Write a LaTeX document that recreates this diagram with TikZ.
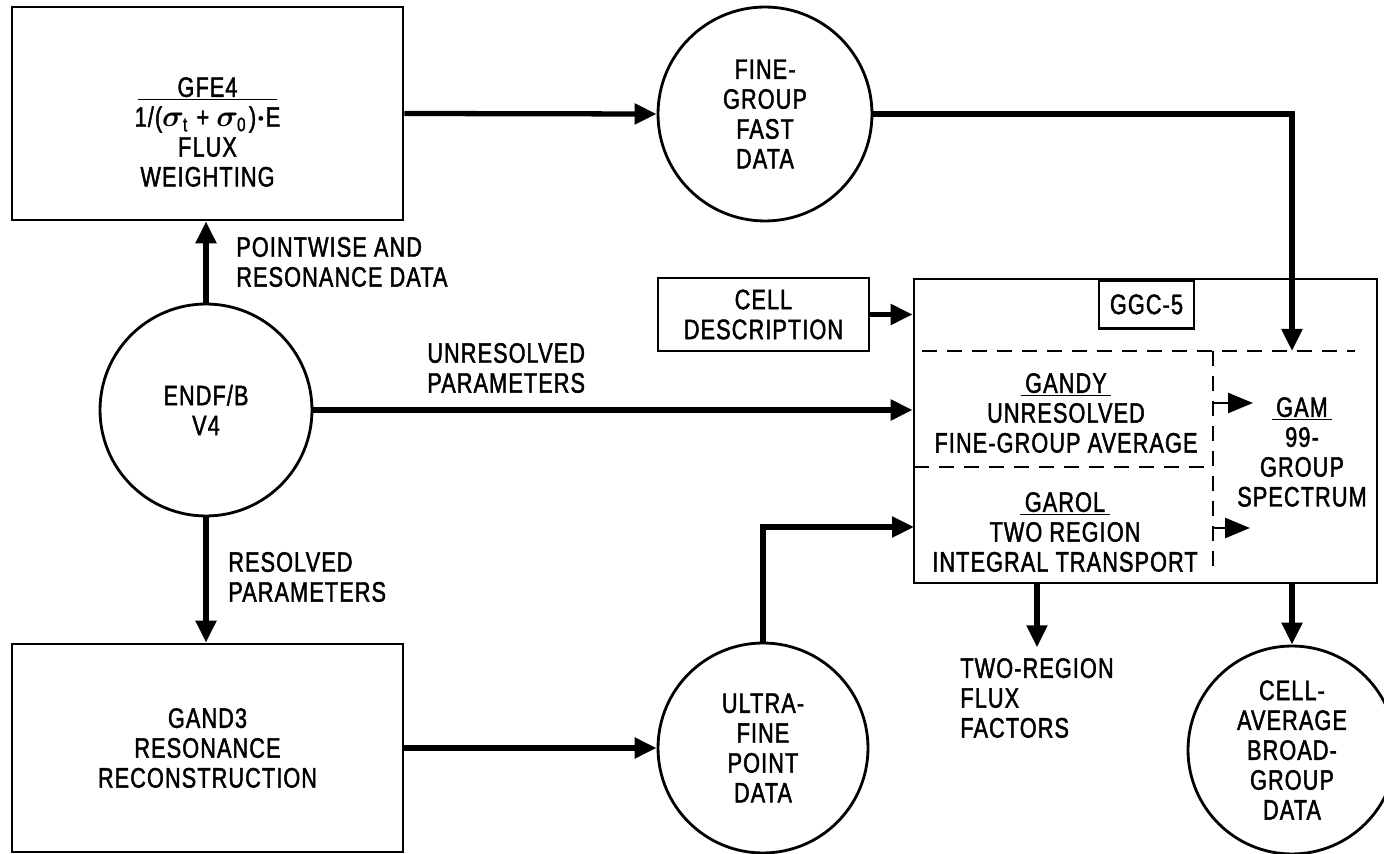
\documentclass[tikz,border=0pt]{standalone}
\usepackage{bm}
\usepackage{fontspec}
\setmainfont{Liberation Sans}[FakeStretch=0.77,LetterSpace=4,FakeBold=1.6]
\usepackage{tikz}
\usetikzlibrary{arrows.meta}

\tikzset{
  block/.style={draw, line width=1.6pt, inner sep=0pt, align=center},
  store/.style={draw, circle, line width=1.6pt, inner sep=0pt, align=center},
  flow/.style={line width=3pt, -{Triangle[length=0.44cm,width=0.4cm]}},
  thinflow/.style={line width=1.5pt, -{Triangle[length=0.5cm,width=0.4cm]}},
  split/.style={line width=1.6pt, dash pattern=on 0.3cm off 0.2cm},
  txt/.style={align=left, inner sep=0pt}
}

\begin{document}
\begin{tikzpicture}[x=0.02cm, y=-0.02cm, font=\fontsize{16}{17}\selectfont]
  \useasboundingbox (0,0) rectangle (1384,854);

  % Program boxes
  \node[block, minimum width=7.82cm, minimum height=4.26cm] (gfe) at (207.5,113.5) {};
  \node[align=center] (gfetext) at (207.5,132) {\underline{\makebox[2.8cm]{GFE4}}\\1/($\bm\sigma_{\mathrm t}$ + $\bm\sigma_{\mathrm 0}$)$\bm\cdot$E\\FLUX\\WEIGHTING};
  \node[block, minimum width=7.82cm, minimum height=4.16cm] (gand) at (207.5,748) {GAND3\\RESONANCE\\RECONSTRUCTION};
  \node[block, minimum width=4.22cm, minimum height=1.46cm] (cell) at (763.5,314.5) {CELL\\DESCRIPTION};
  \node[block, minimum width=9.26cm, minimum height=6.08cm] (ggc) at (1145.5,431) {};
  \node[block, minimum width=1.9cm, minimum height=0.96cm, anchor=north] (ggclabel) at (1146.5,279) {GGC-5};

  % Data sets
  \node[store, minimum size=4.24cm] (endf) at (206,410) {ENDF/B\\V4};
  \node[store, minimum size=4.28cm] (fine) at (765,114) {FINE-\\GROUP\\FAST\\DATA};
  \node[store, minimum size=4.2cm] (ultra) at (763,748) {ULTRA-\\FINE\\POINT\\DATA};
  \node[store, minimum size=4.16cm] (avg) at (1292,750) {CELL-\\AVERAGE\\BROAD-\\GROUP\\DATA};

  % Modules inside GGC-5
  \node[align=center] (gandy) at (1066,413) {\underline{\,GANDY\,}\\UNRESOLVED\\FINE-GROUP AVERAGE};
  \node[align=center] (garol) at (1065,532) {\underline{\,GAROL\,}\\TWO REGION\\INTEGRAL TRANSPORT};
  \node[align=center] (gam) at (1302,452) {\underline{\,GAM\,}\\99-\\GROUP\\SPECTRUM};
  \draw[split] (922,351) -- (1355,351);
  \draw[split] (1213,351) -- (1213,575);
  \draw[split] (914,467) -- (1213,467);

  % Labels
  \node[txt, anchor=west] (pwlab) at (236,262) {POINTWISE AND\\RESONANCE DATA};
  \node[txt, anchor=west] (unreslab) at (427,368) {UNRESOLVED\\PARAMETERS};
  \node[txt, anchor=west] (reslab) at (228,577) {RESOLVED\\PARAMETERS};
  \node[txt] (flux) at (1037,698) {TWO-REGION\\FLUX\\FACTORS};

  % Connectors
  \coordinate (gamin) at (1292,351);
  \coordinate (garolin) at (914,527);
  \coordinate (gandyout) at (1213,403);
  \coordinate (gandytip) at (1253,403);
  \coordinate (garolout) at (1213,528);
  \coordinate (garoltip) at (1250,528);

  \draw[flow] (endf.north) -- (endf.north |- gfe.south);
  \draw[flow] (gfe.east) -- (fine.west);
  \draw[flow] (fine.east) -| (gamin);
  \draw[flow] (cell.east) -- (cell.east -| ggc.west);
  \draw[flow] (endf.east) -- (endf.east -| ggc.west);
  \draw[flow] (endf.south) -- (endf.south |- gand.north);
  \draw[flow] (gand.east) -- (ultra.west);
  \draw[flow] (ultra.north) |- (garolin);
  \draw[flow, shorten >=6pt] (ggc.south -| flux.north) -- (flux.north);
  \draw[flow] (ggc.south -| avg.north) -- (avg.north);
  \draw[thinflow] (gandyout) -- (gandytip);
  \draw[thinflow] (garolout) -- (garoltip);
\end{tikzpicture}
\end{document}
